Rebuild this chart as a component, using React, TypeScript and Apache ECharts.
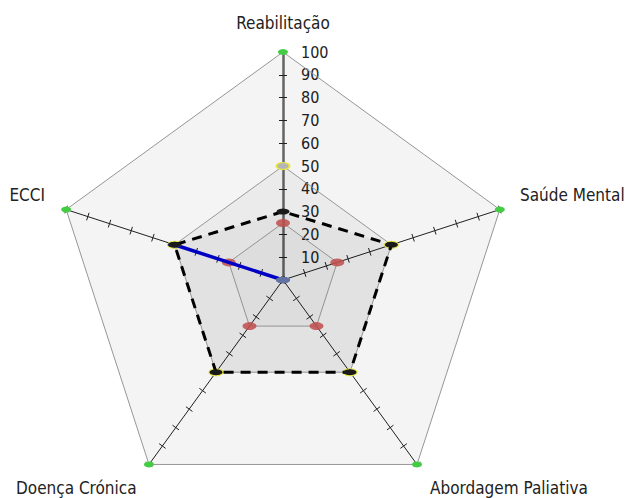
import React, { useEffect, useRef } from "react";
import * as echarts from "echarts";

const indicatorNames = ["Reabilitação", "ECCI", "Doença Crónica", "Abordagem Paliativa", "Saúde Mental"];
const indicatorMax = [100, 100, 100, 100, 100];
const outerValues = [100, 100, 100, 100, 100];
const fiftyValues = [50, 50, 50, 50, 50];
const dashedValues = [30, 50, 50, 50, 50];
const redValues = [25, 25, 25, 25, 25];
const blueValues = [0, 50, 0, 0, 0];

const FONT = '"DejaVu Sans Condensed", "DejaVu Sans", sans-serif';
const CX = 283;
const CY = 280;
const R = 228;

// name label placement (layout only)
const namePlacement = [
  { x: 283, y: 23, align: "center" },
  { x: 45, y: 195, align: "right" },
  { x: 16, y: 488, align: "left" },
  { x: 430, y: 488, align: "left" },
  { x: 520, y: 195, align: "left" },
];

export default function App() {
  const ref = useRef<HTMLDivElement>(null);
  useEffect(() => {
    if (!ref.current) return;
    const chart = echarts.init(ref.current, null, { renderer: "svg" });
    const indicators = indicatorNames.map((n, i) => {
      const o: any = { name: n, max: indicatorMax[i], min: 0 };
      if (i === 0) {
        o.axisLabel = {
          show: true,
          margin: -18,
          align: "left",
          color: "#222",
          fontSize: 16,
          fontFamily: FONT,
          showMinLabel: false,
          formatter: (v: number) => (v === 0 ? "" : String(v)),
        };
        o.axisLine = { show: true, lineStyle: { color: "#6a6a6a", width: 2.5 } };
      }
      return o;
    });
    const indicators2 = indicatorNames.map((n, i) => ({ name: n, max: indicatorMax[i], min: 0 }));
    const baseRadar = {
      center: [CX, CY],
      radius: R,
      startAngle: 90,
      shape: "polygon",
      splitNumber: 10,
      axisName: { show: false },
      splitLine: { show: false },
      splitArea: { show: false },
    };
    chart.setOption({
      animation: false,
      radar: [
        {
          ...baseRadar,
          indicator: indicators,
          axisLine: { show: true, lineStyle: { color: "#222", width: 1 } },
          axisTick: { show: true, length: 4, lineStyle: { color: "#222", width: 1 } },
          axisLabel: { show: false },
        },
        {
          ...baseRadar,
          indicator: indicators2,
          axisLine: { show: false },
          axisTick: { show: true, length: -4, lineStyle: { color: "#222", width: 1 } },
          axisLabel: { show: false },
        },
      ],
      graphic: indicatorNames.map((n, i) => ({
        type: "text",
        x: namePlacement[i].x,
        y: namePlacement[i].y,
        style: {
          text: n,
          fill: "#222",
          fontSize: 17,
          fontFamily: FONT,
          align: namePlacement[i].align,
          verticalAlign: "middle",
        },
      })),
      series: [
        {
          type: "radar",
          radarIndex: 0,
          z: 1,
          data: [
            {
              value: outerValues,
              symbol: "circle",
              symbolSize: [10, 6],
              itemStyle: { color: "#44cc44" },
              lineStyle: { color: "#9a9a9a", width: 1 },
              areaStyle: { color: "rgba(0,0,0,0.06)" },
            },
          ],
        },
        {
          type: "radar",
          radarIndex: 0,
          z: 2,
          data: [
            {
              value: fiftyValues,
              symbol: "circle",
              symbolSize: [13, 7],
              itemStyle: { color: "#b5b5b5", borderColor: "#e6e640", borderWidth: 1.5 },
              lineStyle: { color: "#9a9a9a", width: 1 },
              areaStyle: { color: "rgba(0,0,0,0.05)" },
            },
          ],
        },
        {
          type: "radar",
          radarIndex: 0,
          z: 3,
          data: [
            {
              value: redValues,
              symbol: "circle",
              symbolSize: [14, 8],
              itemStyle: { color: "rgba(200,80,80,0.85)" },
              lineStyle: { color: "#9a9a9a", width: 1 },
              areaStyle: { color: "rgba(0,0,0,0.03)" },
            },
          ],
        },
        {
          type: "radar",
          radarIndex: 0,
          z: 4,
          data: [
            {
              value: blueValues,
              symbol: "circle",
              symbolSize: [14, 6],
              itemStyle: { color: "#6677aa" },
              lineStyle: { color: "#0000cc", width: 3.5 },
            },
          ],
        },
        {
          type: "radar",
          radarIndex: 0,
          z: 5,
          data: [
            {
              value: dashedValues,
              symbol: "circle",
              symbolSize: [13, 6],
              itemStyle: { color: "#1a1a1a" },
              lineStyle: { color: "#000", width: 3, type: [10, 7] },
              areaStyle: { color: "rgba(0,0,0,0.05)" },
            },
          ],
        },
      ],
    });
    return () => chart.dispose();
  }, []);
  return (
    <div
      ref={ref}
      style={{ position: "absolute", left: 0, top: 0, width: 628, height: 498, background: "#fff" }}
    />
  );
}
